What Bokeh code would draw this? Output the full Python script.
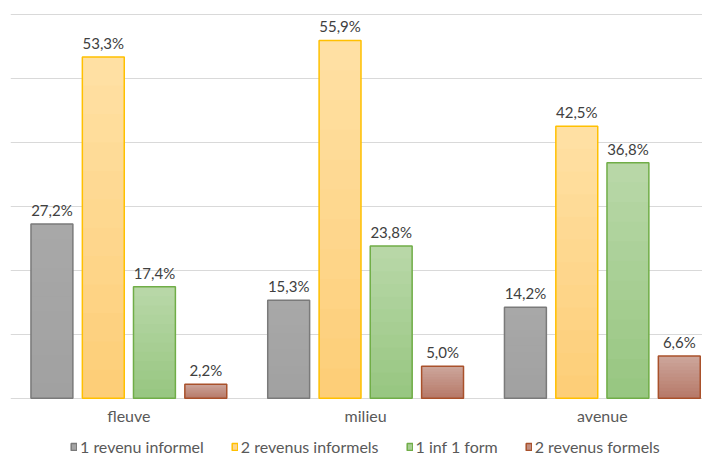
from bokeh.plotting import figure
from bokeh.models import ColumnDataSource, Range1d, FixedTicker, Legend, LegendItem, LabelSet
from bokeh.core.properties import value
from bokeh.embed import file_html
from bokeh.resources import INLINE

categories = ["fleuve", "milieu", "avenue"]
series = ["1 revenu informel", "2 revenus informels", "1 inf 1 form", "2 revenus formels"]
v_1inf = [27.2, 15.3, 14.2]
v_2inf = [53.3, 55.9, 42.5]
v_mix = [17.4, 23.8, 36.8]
v_2form = [2.2, 5.0, 6.6]
values = [v_1inf, v_2inf, v_mix, v_2form]
y_ticks = [0, 10, 20, 30, 40, 50, 60]

top_colors = [(168, 168, 168), (255, 224, 163), (184, 215, 167), (204, 165, 154)]
bot_colors = [(161, 161, 161), (253, 206, 120), (152, 199, 130), (183, 122, 106)]
line_colors = ["#7a7a7a", "#ffc000", "#70ad47", "#a9512b"]
offsets = [-0.325, -0.108, 0.108, 0.325]
bar_w = 0.177
FONT = "Lato"

# frame: 692 x 443 px; 6.4 px per percent point, 60 % line near the top
p = figure(width=702, height=456, output_backend="svg", toolbar_location=None,
           x_axis_location=None, y_axis_location=None,
           x_range=Range1d(0, 2.923), y_range=Range1d(-9.1, 60.1),
           min_border_left=10, min_border_right=0, min_border_top=13, min_border_bottom=0)
p.outline_line_color = None
p.background_fill_color = "white"
p.border_fill_color = "white"

p.ygrid.ticker = FixedTicker(ticks=y_ticks)
p.ygrid.grid_line_color = "#d9d9d9"
p.ygrid.grid_line_width = 1
p.xgrid.visible = False

xs = [i + 0.5 for i in range(len(categories))]
cat_src = ColumnDataSource(dict(x=xs, y=[0] * len(xs), t=categories))
p.text(x="x", y="y", text="t", source=cat_src, text_align="center", text_baseline="top",
       y_offset=8, text_font=value(FONT), text_font_size="16px", text_color="#595959")

N = 12
items = []
for s, (name, vals) in enumerate(zip(series, values)):
    x = [xi + offsets[s] for xi in xs]
    legend_r = None
    for k in range(N):
        f = 1 - k / N
        t = k / (N - 1)
        c = tuple(int(round(top_colors[s][j] + (bot_colors[s][j] - top_colors[s][j]) * t)) for j in range(3))
        col = "#%02x%02x%02x" % c
        src = ColumnDataSource(dict(x=x, top=[v * f for v in vals]))
        r = p.vbar(x="x", top="top", bottom=0, width=bar_w, source=src,
                   fill_color=col, line_color=None)
        if k == N // 2:
            legend_r = r
    src = ColumnDataSource(dict(x=x, top=vals,
                                lab=[("%.1f%%" % v).replace(".", ",") for v in vals]))
    outline = p.vbar(x="x", top="top", bottom=0, width=bar_w, source=src,
                     fill_color=None, line_color=line_colors[s], line_width=1.5)
    labels = LabelSet(x="x", y="top", text="lab", source=src, text_align="center",
                      text_baseline="bottom", y_offset=5, text_font=value(FONT),
                      text_font_size="15px", text_color="#404040")
    p.add_layout(labels)
    items.append(LegendItem(label=name, renderers=[legend_r, outline]))

legend = Legend(items=items, orientation="horizontal", location=(60, 0),
                label_text_font=FONT, label_text_font_size="16px", label_text_color="#595959",
                glyph_width=7, glyph_height=9, label_standoff=3, spacing=27,
                border_line_color=None, background_fill_alpha=0, padding=0, margin=0)
p.add_layout(legend, "center")

open("out.html", "w").write(file_html(p, INLINE))
